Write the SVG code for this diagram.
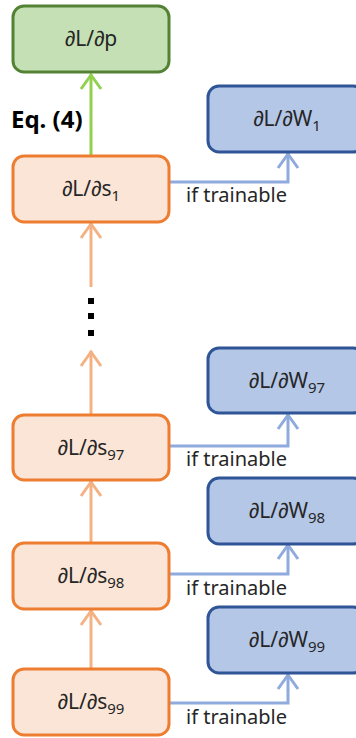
<svg xmlns="http://www.w3.org/2000/svg" width="356" height="738" viewBox="0 0 356 738">
<style>
  .lbl{font-family:"Noto Sans","Liberation Sans",sans-serif;font-size:21px;fill:#262626;text-anchor:middle}
  .sub{font-size:15px}
  .cond{font-family:"Noto Sans","Liberation Sans",sans-serif;font-size:20px;fill:#262626}
  .green rect{fill:#c5e0b4;stroke:#548235;stroke-width:3}
  .orange rect{fill:#fbe5d6;stroke:#ed7d31;stroke-width:3}
  .blue rect{fill:#b4c7e7;stroke:#2f5597;stroke-width:3}
  .ga{stroke:#92d050;stroke-width:3;fill:none}
  .oa{stroke:#f4b183;stroke-width:3;fill:none}
  .ba{stroke:#8faadc;stroke-width:3;fill:none}
</style>
<defs>
  <marker id="mg" viewBox="0 0 20 24" refX="18" refY="12" markerWidth="20" markerHeight="24" markerUnits="userSpaceOnUse" orient="auto">
    <path d="M3 2 L17 12 L3 22" fill="none" stroke="#92d050" stroke-width="3"/>
  </marker>
  <marker id="mo" viewBox="0 0 20 24" refX="18" refY="12" markerWidth="20" markerHeight="24" markerUnits="userSpaceOnUse" orient="auto">
    <path d="M3 2 L17 12 L3 22" fill="none" stroke="#f4b183" stroke-width="3"/>
  </marker>
  <marker id="mb" viewBox="0 0 20 24" refX="18" refY="12" markerWidth="20" markerHeight="24" markerUnits="userSpaceOnUse" orient="auto">
    <path d="M3 2 L17 12 L3 22" fill="none" stroke="#8faadc" stroke-width="3"/>
  </marker>
</defs>

<g id="connectors">
  <line class="ga" x1="91" y1="155" x2="91" y2="74" marker-end="url(#mg)"/>
  <line class="oa" x1="91" y1="287" x2="91" y2="223" marker-end="url(#mo)"/>
  <line class="oa" x1="91" y1="415" x2="91" y2="351" marker-end="url(#mo)"/>
  <line class="oa" x1="91" y1="543" x2="91" y2="481" marker-end="url(#mo)"/>
  <line class="oa" x1="91" y1="669" x2="91" y2="610" marker-end="url(#mo)"/>
  <polyline class="ba" points="169,182 288,182 288,153" marker-end="url(#mb)"/>
  <polyline class="ba" points="169,446 288,446 288,414" marker-end="url(#mb)"/>
  <polyline class="ba" points="169,574 288,574 288,544" marker-end="url(#mb)"/>
  <polyline class="ba" points="169,703 288,703 288,674" marker-end="url(#mb)"/>
</g>

<g id="dots" fill="#000">
  <rect x="88" y="298" width="6" height="6"/>
  <rect x="88" y="313" width="6" height="6"/>
  <rect x="88" y="330" width="6" height="6"/>
</g>

<text x="11" y="128" font-family="'Noto Sans','Liberation Sans',sans-serif" font-size="24" font-weight="bold" fill="#000">Eq. (4)</text>

<g id="dLdp" class="green">
  <rect x="13" y="6" width="156" height="66" rx="11"/>
  <text class="lbl" x="91" y="46">∂L/∂p</text>
</g>

<g id="dLds1" class="orange">
  <rect x="13" y="156" width="156" height="66" rx="11"/>
  <text class="lbl" x="91" y="196">∂L/∂s<tspan class="sub" dy="5">1</tspan></text>
</g>
<g id="dLds97" class="orange">
  <rect x="13" y="415" width="156" height="65" rx="11"/>
  <text class="lbl" x="91" y="455">∂L/∂s<tspan class="sub" dy="5">97</tspan></text>
</g>
<g id="dLds98" class="orange">
  <rect x="13" y="543" width="156" height="66" rx="11"/>
  <text class="lbl" x="91" y="583">∂L/∂s<tspan class="sub" dy="5">98</tspan></text>
</g>
<g id="dLds99" class="orange">
  <rect x="13" y="669" width="156" height="66" rx="11"/>
  <text class="lbl" x="91" y="709">∂L/∂s<tspan class="sub" dy="5">99</tspan></text>
</g>

<g id="dLdW1" class="blue">
  <rect x="208" y="86" width="156" height="66" rx="11"/>
  <text class="lbl" x="287" y="126">∂L/∂W<tspan class="sub" dy="5">1</tspan></text>
</g>
<g id="dLdW97" class="blue">
  <rect x="208" y="348" width="156" height="65" rx="11"/>
  <text class="lbl" x="287" y="388">∂L/∂W<tspan class="sub" dy="5">97</tspan></text>
</g>
<g id="dLdW98" class="blue">
  <rect x="208" y="478" width="156" height="66" rx="11"/>
  <text class="lbl" x="287" y="518">∂L/∂W<tspan class="sub" dy="5">98</tspan></text>
</g>
<g id="dLdW99" class="blue">
  <rect x="208" y="607" width="156" height="66" rx="11"/>
  <text class="lbl" x="287" y="647">∂L/∂W<tspan class="sub" dy="5">99</tspan></text>
</g>

<g id="conditions">
  <text class="cond" x="186" y="202">if trainable</text>
  <text class="cond" x="186" y="466">if trainable</text>
  <text class="cond" x="186" y="595">if trainable</text>
  <text class="cond" x="186" y="724">if trainable</text>
</g>
</svg>
